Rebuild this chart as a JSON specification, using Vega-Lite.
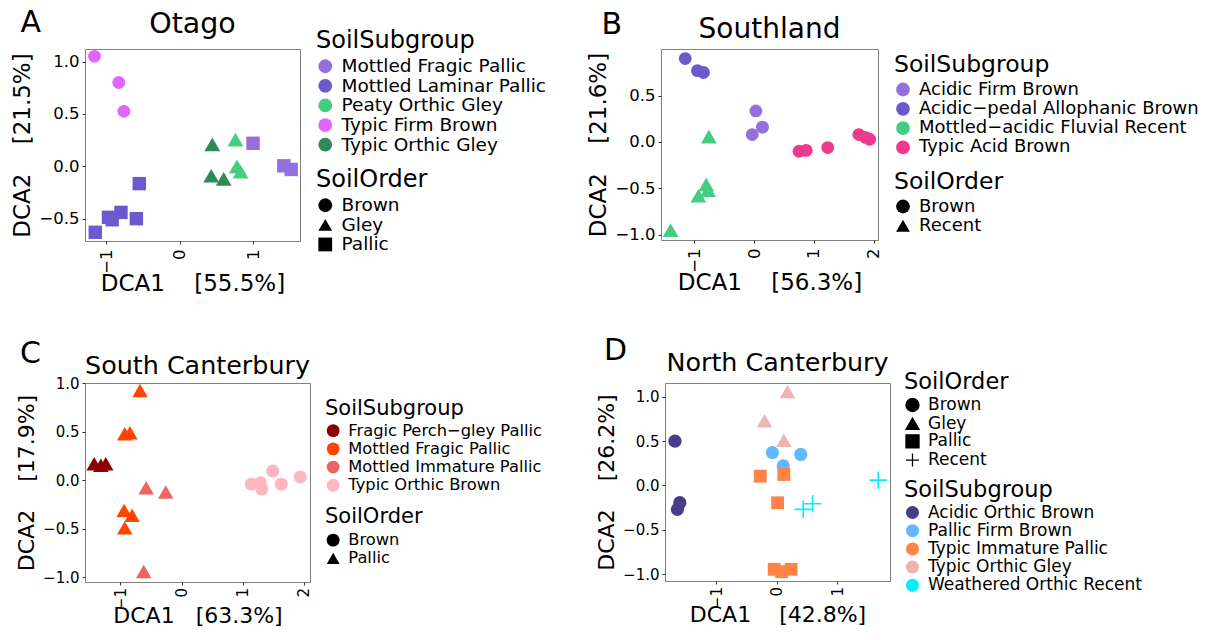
{
  "$schema": "https://vega.github.io/schema/vega-lite/v6.json",
  "background": "white",
  "padding": {"left": 11, "top": 8, "right": 5, "bottom": 2},
  "config": {
    "font": "DejaVu Sans",
    "view": {"stroke": "#808080", "strokeWidth": 1},
    "axis": {"grid": false, "domain": false, "tickColor": "#333333", "tickSize": 3, "labelColor": "black", "titleColor": "black", "titleFontWeight": "normal", "labelPadding": 3, "titlePadding": 4},
    "legend": {"titleFontWeight": "normal", "titleColor": "black", "labelColor": "black", "padding": 0, "titlePadding": 4, "rowPadding": 1.1, "labelOffset": 7, "labelLimit": 0, "titleLimit": 0},
    "title": {"fontWeight": "normal", "color": "black"},
    "point": {"opacity": 1}
  },
  "spacing": 40,
  "resolve": {"scale": {"color": "independent", "shape": "independent", "stroke": "independent", "x": "independent", "y": "independent"}},
  "vconcat": [
    {
      "spacing": 39,
      "resolve": {"scale": {"color": "independent", "shape": "independent", "stroke": "independent", "x": "independent", "y": "independent"}},
      "hconcat": [
        {
          "title": {"text": "A", "anchor": "start", "frame": "bounds", "fontSize": 30, "dx": 9, "dy": 33},
          "resolve": {"scale": {"color": "independent", "shape": "independent"}},
          "hconcat": [
            {
              "width": 215, "height": 192,
              "title": {"text": "Otago", "fontSize": 28.5, "offset": 1, "dy": 10},
              "data": {"values": [
                {"DCA1": -1.16, "DCA2": 1.05, "SoilSubgroup": "Typic Firm Brown", "SoilOrder": "Brown"},
                {"DCA1": -0.83, "DCA2": 0.80, "SoilSubgroup": "Typic Firm Brown", "SoilOrder": "Brown"},
                {"DCA1": -0.76, "DCA2": 0.525, "SoilSubgroup": "Typic Firm Brown", "SoilOrder": "Brown"},
                {"DCA1": -1.15, "DCA2": -0.63, "SoilSubgroup": "Mottled Laminar Pallic", "SoilOrder": "Pallic"},
                {"DCA1": -0.97, "DCA2": -0.487, "SoilSubgroup": "Mottled Laminar Pallic", "SoilOrder": "Pallic"},
                {"DCA1": -0.92, "DCA2": -0.51, "SoilSubgroup": "Mottled Laminar Pallic", "SoilOrder": "Pallic"},
                {"DCA1": -0.80, "DCA2": -0.44, "SoilSubgroup": "Mottled Laminar Pallic", "SoilOrder": "Pallic"},
                {"DCA1": -0.59, "DCA2": -0.50, "SoilSubgroup": "Mottled Laminar Pallic", "SoilOrder": "Pallic"},
                {"DCA1": -0.55, "DCA2": -0.165, "SoilSubgroup": "Mottled Laminar Pallic", "SoilOrder": "Pallic"},
                {"DCA1": 1.0, "DCA2": 0.22, "SoilSubgroup": "Mottled Fragic Pallic", "SoilOrder": "Pallic"},
                {"DCA1": 1.42, "DCA2": 0.005, "SoilSubgroup": "Mottled Fragic Pallic", "SoilOrder": "Pallic"},
                {"DCA1": 1.52, "DCA2": -0.03, "SoilSubgroup": "Mottled Fragic Pallic", "SoilOrder": "Pallic"},
                {"DCA1": 0.445, "DCA2": 0.21, "SoilSubgroup": "Typic Orthic Gley", "SoilOrder": "Gley"},
                {"DCA1": 0.43, "DCA2": -0.09, "SoilSubgroup": "Typic Orthic Gley", "SoilOrder": "Gley"},
                {"DCA1": 0.60, "DCA2": -0.12, "SoilSubgroup": "Typic Orthic Gley", "SoilOrder": "Gley"},
                {"DCA1": 0.76, "DCA2": 0.255, "SoilSubgroup": "Peaty Orthic Gley", "SoilOrder": "Gley"},
                {"DCA1": 0.78, "DCA2": 0.0, "SoilSubgroup": "Peaty Orthic Gley", "SoilOrder": "Gley"},
                {"DCA1": 0.83, "DCA2": -0.05, "SoilSubgroup": "Peaty Orthic Gley", "SoilOrder": "Gley"}
              ]},
              "mark": {"type": "point", "filled": true, "opacity": 1},
              "encoding": {
                "x": {"field": "DCA1", "type": "quantitative", "scale": {"domain": [-1.29, 1.64], "nice": false, "zero": false},
                      "axis": {"values": [-1, 0, 1], "format": "d", "labelAngle": -90, "labelFontSize": 16.5, "labelPadding": 5, "title": "DCA1\u00a0\u00a0\u00a0\u00a0[55.5%]", "titleFontSize": 23, "titlePadding": -1}},
                "y": {"field": "DCA2", "type": "quantitative", "scale": {"domain": [-0.713, 1.12], "nice": false, "zero": false},
                      "axis": {"values": [-0.5, 0, 0.5, 1], "format": ".1f", "labelFontSize": 16.5, "title": "DCA2\u00a0\u00a0\u00a0\u00a0[21.5%]", "titleFontSize": 23}},
                "size": {"condition": [{"test": "datum.SoilOrder === 'Gley'", "value": 250}, {"test": "datum.SoilOrder === 'Pallic'", "value": 180}], "value": 165},
                "color": {"field": "SoilSubgroup", "type": "nominal",
                          "scale": {"domain": ["Mottled Fragic Pallic", "Mottled Laminar Pallic", "Peaty Orthic Gley", "Typic Firm Brown", "Typic Orthic Gley"],
                                    "range": ["#9370DB", "#6A5ACD", "#43CD80", "#E066FF", "#2E8B57"]},
                          "legend": {"orient": "none", "legendX": 231, "legendY": -20, "title": "SoilSubgroup", "titleFontSize": 24, "labelFontSize": 18.5, "rowPadding": 0.6, "symbolType": "circle", "symbolSize": 190, "symbolStrokeWidth": 0}},
                "shape": {"field": "SoilOrder", "type": "nominal",
                          "scale": {"domain": ["Brown", "Gley", "Pallic"], "range": ["circle", "triangle-up", "square"]},
                          "legend": {"orient": "none", "legendX": 231, "legendY": 119, "title": "SoilOrder", "titleFontSize": 24, "labelFontSize": 18.5, "rowPadding": 0.6, "symbolSize": 190, "symbolFillColor": "black", "symbolStrokeColor": "black", "symbolStrokeWidth": 0}}
              }
            }
          ]
        },
        {
          "title": {"text": "B", "anchor": "start", "frame": "bounds", "fontSize": 30, "dx": 14, "dy": 28},
          "resolve": {"scale": {"color": "independent", "shape": "independent"}},
          "hconcat": [
            {
              "width": 217, "height": 191,
              "title": {"text": "Southland", "fontSize": 28, "offset": 2, "dy": -3},
              "data": {"values": [
                {"DCA1": -1.15, "DCA2": 0.90, "SoilSubgroup": "Acidic−pedal Allophanic Brown", "SoilOrder": "Brown"},
                {"DCA1": -0.945, "DCA2": 0.77, "SoilSubgroup": "Acidic−pedal Allophanic Brown", "SoilOrder": "Brown"},
                {"DCA1": -0.845, "DCA2": 0.75, "SoilSubgroup": "Acidic−pedal Allophanic Brown", "SoilOrder": "Brown"},
                {"DCA1": 0.03, "DCA2": 0.335, "SoilSubgroup": "Acidic Firm Brown", "SoilOrder": "Brown"},
                {"DCA1": 0.14, "DCA2": 0.16, "SoilSubgroup": "Acidic Firm Brown", "SoilOrder": "Brown"},
                {"DCA1": -0.03, "DCA2": 0.08, "SoilSubgroup": "Acidic Firm Brown", "SoilOrder": "Brown"},
                {"DCA1": 0.75, "DCA2": -0.10, "SoilSubgroup": "Typic Acid Brown", "SoilOrder": "Brown"},
                {"DCA1": 0.87, "DCA2": -0.09, "SoilSubgroup": "Typic Acid Brown", "SoilOrder": "Brown"},
                {"DCA1": 1.23, "DCA2": -0.06, "SoilSubgroup": "Typic Acid Brown", "SoilOrder": "Brown"},
                {"DCA1": 1.75, "DCA2": 0.08, "SoilSubgroup": "Typic Acid Brown", "SoilOrder": "Brown"},
                {"DCA1": 1.86, "DCA2": 0.05, "SoilSubgroup": "Typic Acid Brown", "SoilOrder": "Brown"},
                {"DCA1": 1.93, "DCA2": 0.03, "SoilSubgroup": "Typic Acid Brown", "SoilOrder": "Brown"},
                {"DCA1": -0.755, "DCA2": 0.057, "SoilSubgroup": "Mottled−acidic Fluvial Recent", "SoilOrder": "Recent"},
                {"DCA1": -0.80, "DCA2": -0.46, "SoilSubgroup": "Mottled−acidic Fluvial Recent", "SoilOrder": "Recent"},
                {"DCA1": -0.77, "DCA2": -0.52, "SoilSubgroup": "Mottled−acidic Fluvial Recent", "SoilOrder": "Recent"},
                {"DCA1": -0.93, "DCA2": -0.58, "SoilSubgroup": "Mottled−acidic Fluvial Recent", "SoilOrder": "Recent"},
                {"DCA1": -1.395, "DCA2": -0.95, "SoilSubgroup": "Mottled−acidic Fluvial Recent", "SoilOrder": "Recent"}
              ]},
              "mark": {"type": "point", "filled": true, "opacity": 1},
              "encoding": {
                "x": {"field": "DCA1", "type": "quantitative", "scale": {"domain": [-1.555, 2.07], "nice": false, "zero": false},
                      "axis": {"values": [-1, 0, 1, 2], "format": "d", "labelAngle": -90, "labelFontSize": 16.5, "labelPadding": 5, "title": "DCA1\u00a0\u00a0\u00a0\u00a0[56.3%]", "titleFontSize": 23, "titlePadding": -1}},
                "y": {"field": "DCA2", "type": "quantitative", "scale": {"domain": [-1.057, 1.003], "nice": false, "zero": false},
                      "axis": {"values": [-1, -0.5, 0, 0.5], "format": ".1f", "labelFontSize": 16.5, "title": "DCA2\u00a0\u00a0\u00a0\u00a0[21.6%]", "titleFontSize": 23}},
                "size": {"condition": {"test": "datum.SoilOrder === 'Recent'", "value": 250}, "value": 165},
                "color": {"field": "SoilSubgroup", "type": "nominal",
                          "scale": {"domain": ["Acidic Firm Brown", "Acidic−pedal Allophanic Brown", "Mottled−acidic Fluvial Recent", "Typic Acid Brown"],
                                    "range": ["#9370DB", "#6A5ACD", "#43CD80", "#EE3A8C"]},
                          "legend": {"orient": "none", "legendX": 233, "legendY": 4, "title": "SoilSubgroup", "titleFontSize": 23.5, "labelFontSize": 18, "rowPadding": 1.3, "symbolType": "circle", "symbolSize": 190, "symbolStrokeWidth": 0}},
                "shape": {"field": "SoilOrder", "type": "nominal",
                          "scale": {"domain": ["Brown", "Recent"], "range": ["circle", "triangle-up"]},
                          "legend": {"orient": "none", "legendX": 233, "legendY": 121, "title": "SoilOrder", "titleFontSize": 23.5, "labelFontSize": 18, "titlePadding": 4, "rowPadding": 1.3, "symbolSize": 190, "symbolFillColor": "black", "symbolStrokeColor": "black", "symbolStrokeWidth": 0}}
              }
            }
          ]
        }
      ]
    },
    {
      "spacing": 52,
      "resolve": {"scale": {"color": "independent", "shape": "independent", "stroke": "independent", "x": "independent", "y": "independent"}},
      "hconcat": [
        {
          "title": {"text": "C", "anchor": "start", "frame": "bounds", "fontSize": 30, "dx": 5, "dy": 20},
          "resolve": {"scale": {"color": "independent", "shape": "independent"}},
          "hconcat": [
            {
              "width": 225, "height": 199,
              "title": {"text": "South Canterbury", "fontSize": 25.4, "offset": 2, "dy": 5},
              "data": {"values": [
                {"DCA1": -1.43, "DCA2": 0.17, "SoilSubgroup": "Fragic Perch−gley Pallic", "SoilOrder": "Pallic"},
                {"DCA1": -1.32, "DCA2": 0.155, "SoilSubgroup": "Fragic Perch−gley Pallic", "SoilOrder": "Pallic"},
                {"DCA1": -1.24, "DCA2": 0.17, "SoilSubgroup": "Fragic Perch−gley Pallic", "SoilOrder": "Pallic"},
                {"DCA1": -0.68, "DCA2": 0.925, "SoilSubgroup": "Mottled Fragic Pallic", "SoilOrder": "Pallic"},
                {"DCA1": -0.93, "DCA2": 0.48, "SoilSubgroup": "Mottled Fragic Pallic", "SoilOrder": "Pallic"},
                {"DCA1": -0.845, "DCA2": 0.49, "SoilSubgroup": "Mottled Fragic Pallic", "SoilOrder": "Pallic"},
                {"DCA1": -0.94, "DCA2": -0.31, "SoilSubgroup": "Mottled Fragic Pallic", "SoilOrder": "Pallic"},
                {"DCA1": -0.81, "DCA2": -0.36, "SoilSubgroup": "Mottled Fragic Pallic", "SoilOrder": "Pallic"},
                {"DCA1": -0.93, "DCA2": -0.49, "SoilSubgroup": "Mottled Fragic Pallic", "SoilOrder": "Pallic"},
                {"DCA1": -0.58, "DCA2": -0.076, "SoilSubgroup": "Mottled Immature Pallic", "SoilOrder": "Pallic"},
                {"DCA1": -0.26, "DCA2": -0.12, "SoilSubgroup": "Mottled Immature Pallic", "SoilOrder": "Pallic"},
                {"DCA1": -0.62, "DCA2": -0.94, "SoilSubgroup": "Mottled Immature Pallic", "SoilOrder": "Pallic"},
                {"DCA1": 1.14, "DCA2": -0.04, "SoilSubgroup": "Typic Orthic Brown", "SoilOrder": "Brown"},
                {"DCA1": 1.29, "DCA2": -0.025, "SoilSubgroup": "Typic Orthic Brown", "SoilOrder": "Brown"},
                {"DCA1": 1.31, "DCA2": -0.09, "SoilSubgroup": "Typic Orthic Brown", "SoilOrder": "Brown"},
                {"DCA1": 1.49, "DCA2": 0.095, "SoilSubgroup": "Typic Orthic Brown", "SoilOrder": "Brown"},
                {"DCA1": 1.63, "DCA2": -0.04, "SoilSubgroup": "Typic Orthic Brown", "SoilOrder": "Brown"},
                {"DCA1": 1.94, "DCA2": 0.035, "SoilSubgroup": "Typic Orthic Brown", "SoilOrder": "Brown"}
              ]},
              "mark": {"type": "point", "filled": true, "opacity": 1},
              "encoding": {
                "x": {"field": "DCA1", "type": "quantitative", "scale": {"domain": [-1.58, 2.10], "nice": false, "zero": false},
                      "axis": {"values": [-1, 0, 1, 2], "format": "d", "labelAngle": -90, "labelFontSize": 15, "labelPadding": 2.5, "title": "DCA1\u00a0\u00a0\u00a0[63.3%]", "titleFontSize": 22, "titlePadding": -4}},
                "y": {"field": "DCA2", "type": "quantitative", "scale": {"domain": [-1.048, 1.003], "nice": false, "zero": false},
                      "axis": {"values": [-1, -0.5, 0, 0.5, 1], "format": ".1f", "labelFontSize": 15, "title": "DCA2\u00a0\u00a0\u00a0\u00a0[17.9%]", "titleFontSize": 22}},
                "size": {"condition": {"test": "datum.SoilOrder === 'Pallic'", "value": 240}, "value": 170},
                "color": {"field": "SoilSubgroup", "type": "nominal",
                          "scale": {"domain": ["Fragic Perch−gley Pallic", "Mottled Fragic Pallic", "Mottled Immature Pallic", "Typic Orthic Brown"],
                                    "range": ["#8B0000", "#FF4500", "#EE6363", "#FFB6C1"]},
                          "legend": {"orient": "none", "legendX": 240, "legendY": 14.5, "title": "SoilSubgroup", "titleFontSize": 21, "labelFontSize": 16.3, "rowPadding": 1.2, "symbolType": "circle", "symbolSize": 165, "symbolStrokeWidth": 0}},
                "shape": {"field": "SoilOrder", "type": "nominal",
                          "scale": {"domain": ["Brown", "Pallic"], "range": ["circle", "triangle-up"]},
                          "legend": {"orient": "none", "legendX": 240, "legendY": 123, "title": "SoilOrder", "titleFontSize": 21, "labelFontSize": 16.3, "titlePadding": 5, "rowPadding": 1.2, "symbolSize": 165, "symbolFillColor": "black", "symbolStrokeColor": "black", "symbolStrokeWidth": 0}}
              }
            }
          ]
        },
        {
          "title": {"text": "D", "anchor": "start", "frame": "bounds", "fontSize": 30, "dx": 9, "dy": 20},
          "resolve": {"scale": {"color": "independent", "shape": "independent", "stroke": "independent"}},
          "hconcat": [
            {
              "width": 225, "height": 198,
              "title": {"text": "North Canterbury", "fontSize": 25.4, "offset": 2, "dy": 7},
              "data": {"values": [
                {"DCA1": -1.68, "DCA2": 0.50, "SoilSubgroup": "Acidic Orthic Brown", "SoilOrder": "Brown"},
                {"DCA1": -1.60, "DCA2": -0.195, "SoilSubgroup": "Acidic Orthic Brown", "SoilOrder": "Brown"},
                {"DCA1": -1.64, "DCA2": -0.27, "SoilSubgroup": "Acidic Orthic Brown", "SoilOrder": "Brown"},
                {"DCA1": -0.07, "DCA2": 0.37, "SoilSubgroup": "Pallic Firm Brown", "SoilOrder": "Brown"},
                {"DCA1": 0.40, "DCA2": 0.35, "SoilSubgroup": "Pallic Firm Brown", "SoilOrder": "Brown"},
                {"DCA1": 0.11, "DCA2": 0.22, "SoilSubgroup": "Pallic Firm Brown", "SoilOrder": "Brown"},
                {"DCA1": -0.27, "DCA2": 0.105, "SoilSubgroup": "Typic Immature Pallic", "SoilOrder": "Pallic"},
                {"DCA1": 0.12, "DCA2": 0.124, "SoilSubgroup": "Typic Immature Pallic", "SoilOrder": "Pallic"},
                {"DCA1": 0.017, "DCA2": -0.196, "SoilSubgroup": "Typic Immature Pallic", "SoilOrder": "Pallic"},
                {"DCA1": -0.04, "DCA2": -0.947, "SoilSubgroup": "Typic Immature Pallic", "SoilOrder": "Pallic"},
                {"DCA1": 0.083, "DCA2": -0.974, "SoilSubgroup": "Typic Immature Pallic", "SoilOrder": "Pallic"},
                {"DCA1": 0.24, "DCA2": -0.947, "SoilSubgroup": "Typic Immature Pallic", "SoilOrder": "Pallic"},
                {"DCA1": 0.18, "DCA2": 1.06, "SoilSubgroup": "Typic Orthic Gley", "SoilOrder": "Gley"},
                {"DCA1": -0.20, "DCA2": 0.73, "SoilSubgroup": "Typic Orthic Gley", "SoilOrder": "Gley"},
                {"DCA1": 0.12, "DCA2": 0.51, "SoilSubgroup": "Typic Orthic Gley", "SoilOrder": "Gley"},
                {"DCA1": 1.68, "DCA2": 0.06, "SoilSubgroup": "Weathered Orthic Recent", "SoilOrder": "Recent"},
                {"DCA1": 0.595, "DCA2": -0.206, "SoilSubgroup": "Weathered Orthic Recent", "SoilOrder": "Recent"},
                {"DCA1": 0.44, "DCA2": -0.27, "SoilSubgroup": "Weathered Orthic Recent", "SoilOrder": "Recent"}
              ]},
              "mark": {"type": "point", "filled": true, "opacity": 1},
              "encoding": {
                "x": {"field": "DCA1", "type": "quantitative", "scale": {"domain": [-1.845, 1.875], "nice": false, "zero": false},
                      "axis": {"values": [-1, 0, 1], "format": "d", "labelAngle": -90, "labelFontSize": 15, "labelPadding": 2.5, "title": "DCA1\u00a0\u00a0\u00a0\u00a0[42.8%]", "titleFontSize": 22, "titlePadding": -4}},
                "y": {"field": "DCA2", "type": "quantitative", "scale": {"domain": [-1.079, 1.157], "nice": false, "zero": false},
                      "axis": {"values": [-1, -0.5, 0, 0.5, 1], "format": ".1f", "labelFontSize": 15, "title": "DCA2\u00a0\u00a0\u00a0\u00a0[26.2%]", "titleFontSize": 22}},
                "size": {"condition": [{"test": "datum.SoilOrder === 'Gley'", "value": 240}, {"test": "datum.SoilOrder === 'Recent'", "value": 300}, {"test": "datum.SoilOrder === 'Pallic'", "value": 165}], "value": 175},
                "color": {"field": "SoilSubgroup", "type": "nominal",
                          "scale": {"domain": ["Acidic Orthic Brown", "Pallic Firm Brown", "Typic Immature Pallic", "Typic Orthic Gley", "Weathered Orthic Recent"],
                                    "range": ["#483D8B", "#63B8FF", "#FF8247", "#EEB4B4", "#00F0FF"]},
                          "legend": {"orient": "none", "legendX": 239, "legendY": 95.5, "title": "SoilSubgroup", "titleFontSize": 22.5, "labelFontSize": 17, "titlePadding": 3, "rowPadding": 0.2, "symbolType": "circle", "symbolSize": 170, "symbolStrokeWidth": 0}},
                "stroke": {"field": "SoilSubgroup", "type": "nominal",
                          "scale": {"domain": ["Acidic Orthic Brown", "Pallic Firm Brown", "Typic Immature Pallic", "Typic Orthic Gley", "Weathered Orthic Recent"],
                                    "range": ["#483D8B", "#63B8FF", "#FF8247", "#EEB4B4", "#00F0FF"]},
                          "legend": null},
                "strokeWidth": {"condition": {"test": "datum.SoilOrder === 'Recent'", "value": 1.6}, "value": 0},
                "shape": {"field": "SoilOrder", "type": "nominal",
                          "scale": {"domain": ["Brown", "Gley", "Pallic", "Recent"], "range": ["circle", "triangle-up", "square", "M-1,0H1M0,-1V1"]},
                          "legend": {"orient": "none", "legendX": 239, "legendY": -12, "title": "SoilOrder", "titleFontSize": 22.5, "labelFontSize": 17, "titlePadding": 3, "rowPadding": -0.3, "symbolSize": 170, "symbolFillColor": "black", "symbolStrokeColor": "black", "symbolStrokeWidth": 1.3}}
              }
            }
          ]
        }
      ]
    }
  ]
}
